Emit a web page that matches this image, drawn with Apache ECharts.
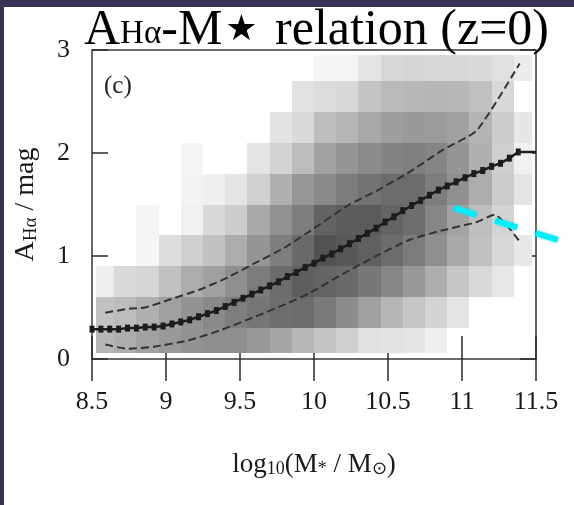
<!DOCTYPE html>
<html>
<head>
<meta charset="utf-8">
<script src="https://cdn.jsdelivr.net/npm/echarts@6/dist/echarts.min.js"></script>
<style>
  html, body { margin: 0; padding: 0; background: #ffffff; }
  #chart { width: 574px; height: 505px; }
</style>
</head>
<body>
<div id="chart"></div>
<script>
// Stellar-mass bin centres, log10(M*/Msun)
const massBins = [8.575, 8.725, 8.875, 9.025, 9.175, 9.325, 9.475, 9.625, 9.775, 9.925,
                  10.075, 10.225, 10.375, 10.525, 10.675, 10.825, 10.975, 11.125, 11.275, 11.425];
// A_Halpha bin centres, mag
const extBins = [0.15, 0.45, 0.75, 1.05, 1.35, 1.65, 1.95, 2.25, 2.55, 2.85];

// Galaxy density per cell (darker = more galaxies), one row per A_Halpha bin, bottom row first
const density = [
  [73, 81, 93, 102, 109, 113, 113, 103, 89, 71, 59, 48, 31, 29, 26, 16, null, null, null, null],
  [61, 67, 79, 95, 108, 118, 129, 137, 145, 147, 133, 115, 95, 73, 57, 43, 27, null, null, null],
  [17, 37, 41, 63, 83, 95, 112, 131, 147, 161, 155, 149, 135, 120, 103, 81, 57, 38, 24, null],
  [null, null, 10, 35, 48, 61, 83, 106, 129, 149, 173, 167, 159, 147, 132, 112, 87, 63, 40, 23],
  [null, null, 10, null, 15, 39, 50, 87, 109, 130, 156, 162, 164, 155, 145, 121, 93, 65, 44, null],
  [null, null, null, null, 12, 16, 27, 47, 79, 105, 117, 131, 140, 147, 147, 130, 111, 83, 51, 27],
  [null, null, null, null, 11, null, null, 27, 45, 67, 93, 106, 116, 124, 128, 122, 106, 79, 48, 15],
  [null, null, null, null, null, null, null, null, 28, 37, 66, 74, 87, 97, 102, 101, 95, 75, 51, 25],
  [null, null, null, null, null, null, null, null, null, 29, 35, 39, 59, 69, 71, 73, 71, 63, 39, null],
  [null, null, null, null, null, null, null, null, null, null, 11, 11, 27, 40, 42, 40, 39, 37, 31, 19]
];

// Running median of A_Halpha
const medianMass = [8.50, 8.56, 8.62, 8.68, 8.74, 8.80, 8.86, 8.92, 8.98, 9.04, 9.10, 9.16, 9.22, 9.28,
  9.34, 9.40, 9.46, 9.52, 9.58, 9.64, 9.70, 9.76, 9.82, 9.88, 9.94, 10.00, 10.06, 10.12, 10.18, 10.24,
  10.30, 10.36, 10.42, 10.48, 10.54, 10.60, 10.66, 10.72, 10.78, 10.84, 10.90, 10.96, 11.02, 11.08,
  11.14, 11.20, 11.26, 11.32, 11.38, 11.50];
const medianExt = [0.29, 0.29, 0.29, 0.29, 0.30, 0.30, 0.31, 0.31, 0.32, 0.34, 0.36, 0.38, 0.41, 0.44,
  0.47, 0.51, 0.55, 0.59, 0.63, 0.67, 0.71, 0.75, 0.80, 0.84, 0.89, 0.93, 0.98, 1.02, 1.07, 1.12,
  1.17, 1.22, 1.27, 1.33, 1.38, 1.44, 1.49, 1.54, 1.59, 1.64, 1.68, 1.72, 1.76, 1.80,
  1.83, 1.87, 1.90, 1.95, 2.01, 2.01];

// 84th percentile
const upperMass = [8.59, 8.76, 8.86, 9.03, 9.22, 9.40, 9.60, 9.80, 9.95, 10.24, 10.42, 10.65, 10.87, 11.10, 11.39];
const upperExt  = [0.45, 0.49, 0.50, 0.58, 0.67, 0.78, 0.93, 1.08, 1.22, 1.50, 1.63, 1.82, 2.03, 2.22, 2.87];

// 16th percentile
const lowerMass = [8.59, 8.74, 8.92, 9.15, 9.37, 9.60, 9.82, 9.97, 10.20, 10.42, 10.65, 10.87, 11.10, 11.22, 11.39];
const lowerExt  = [0.14, 0.10, 0.12, 0.18, 0.28, 0.41, 0.54, 0.64, 0.83, 1.00, 1.16, 1.25, 1.33, 1.40, 1.14];

// Highlighted relation (start and end point)
const guideMass = [10.95, 11.65];
const guideExt  = [1.466, 1.155];

const xTickLabels = ['8.5', '9', '9.5', '10', '10.5', '11', '11.5'];
const yTickLabels = ['0', '1', '2', '3'];

const zip = (xs, ys) => xs.map((x, i) => [x, ys[i]]);

const cells = [];
density.forEach((row, j) => row.forEach((d, i) => {
  if (d !== null) cells.push([massBins[i], extBins[j], d]);
}));
const halfW = (massBins[1] - massBins[0]) / 2;
const halfH = (extBins[1] - extBins[0]) / 2;

const serif = 'Liberation Serif';
const ink = '#2b2b2b';

const chart = echarts.init(document.getElementById('chart'), null, { renderer: 'canvas' });

chart.setOption({
  backgroundColor: '#ffffff',
  animation: false,
  title: {
    text: '{a|A}{b|Hα}{a|-M}{c|★}{a| relation (z=0)}',
    left: 84,
    top: 4,
    padding: 0,
    textStyle: {
      rich: {
        a: { fontFamily: serif, fontSize: 50, fontWeight: 'normal', lineHeight: 52, color: '#000', verticalAlign: 'bottom' },
        b: { fontFamily: serif, fontSize: 33, fontWeight: 'normal', lineHeight: 35, color: '#000', verticalAlign: 'bottom', padding: [0, 0, 5, 0] },
        c: { fontFamily: 'DejaVu Sans', fontSize: 36, fontWeight: 'normal', lineHeight: 36, color: '#000', verticalAlign: 'bottom', padding: [0, 5, 7, 3] }
      }
    }
  },
  graphic: [
    { type: 'rect', left: 0, top: 0, z: 100, shape: { width: 574, height: 7 }, style: { fill: '#393453' } },
    { type: 'rect', left: 0, top: 0, z: 100, shape: { width: 4, height: 505 }, style: { fill: '#393453' } },
    { type: 'text', left: 104, top: 74, z: 50,
      style: { text: '(c)', font: '25px "Liberation Serif"', fill: '#222' } }
  ],
  grid: {
    left: 92, top: 50, width: 444, height: 309,
    show: true, borderColor: '#3a3a3a', borderWidth: 1.5, backgroundColor: '#ffffff'
  },
  visualMap: {
    show: false, type: 'continuous', min: 0, max: 255, dimension: 2, seriesIndex: 0,
    inRange: { color: ['#ffffff', '#000000'] }
  },
  xAxis: [
    {
      type: 'value', position: 'bottom', min: 8.5, max: 11.5, interval: 0.5,
      axisLine: { show: false },
      axisTick: { inside: true, length: 23, lineStyle: { color: ink, width: 1.5 } },
      splitLine: { show: false },
      axisLabel: {
        margin: 30, fontFamily: serif, fontSize: 26, color: '#1a1a1a',
        formatter: (v, i) => xTickLabels[i]
      },
      name: '{a|log}{s|10}{a|(M}{s|*}{a| / M}{s|⊙}{a|)}',
      nameLocation: 'middle', nameGap: 92,
      nameTextStyle: {
        rich: {
          a: { fontFamily: serif, fontSize: 27, lineHeight: 27, color: '#1a1a1a', verticalAlign: 'top', padding: [0, 0, 6, 0] },
          s: { fontFamily: serif, fontSize: 18, lineHeight: 18, color: '#1a1a1a', verticalAlign: 'bottom' }
        }
      }
    },
    {
      type: 'value', position: 'top', min: 8.5, max: 11.5, interval: 0.5,
      axisLine: { show: false },
      axisTick: { inside: true, length: 22, lineStyle: { color: ink, width: 1.5 } },
      splitLine: { show: false },
      axisLabel: { show: false }
    }
  ],
  yAxis: [
    {
      type: 'value', position: 'left', min: 0, max: 3, interval: 1,
      axisLine: { show: false },
      axisTick: { inside: true, length: 16, lineStyle: { color: ink, width: 1.5 } },
      splitLine: { show: false },
      axisLabel: {
        margin: 22, fontFamily: serif, fontSize: 26, color: '#1a1a1a',
        formatter: (v, i) => yTickLabels[i]
      },
      name: '{a|A}{s|Hα}{a| / mag}',
      nameLocation: 'middle', nameRotate: 90, nameGap: 50,
      nameTextStyle: {
        rich: {
          a: { fontFamily: serif, fontSize: 28, lineHeight: 28, color: '#1a1a1a', verticalAlign: 'top', padding: [0, 0, 6, 0] },
          s: { fontFamily: serif, fontSize: 19, lineHeight: 19, color: '#1a1a1a', verticalAlign: 'bottom' }
        }
      }
    },
    {
      type: 'value', position: 'right', min: 0, max: 3, interval: 1,
      axisLine: { show: false },
      axisTick: { inside: true, length: 16, lineStyle: { color: ink, width: 1.5 } },
      splitLine: { show: false },
      axisLabel: { show: false }
    }
  ],
  series: [
    {
      name: 'density',
      type: 'custom',
      data: cells,
      encode: { x: 0, y: 1 },
      z: 1,
      renderItem: (params, api) => {
        const xc = api.value(0), yc = api.value(1);
        const p0 = api.coord([xc - halfW, yc + halfH]);
        const p1 = api.coord([xc + halfW, yc - halfH]);
        const x0 = Math.round(p0[0]), y0 = Math.round(p0[1]);
        const x1 = Math.round(p1[0]), y1 = Math.round(p1[1]);
        const cs = params.coordSys;
        const shape = echarts.graphic.clipRectByRect(
          { x: x0, y: y0, width: x1 - x0, height: y1 - y0 },
          { x: cs.x + 4, y: cs.y + 5, width: cs.width - 8, height: cs.height - 11 }
        );
        if (!shape) return null;
        return { type: 'rect', shape: shape, style: { fill: api.visual('color') } };
      }
    },
    {
      name: 'p84', type: 'line', data: zip(upperMass, upperExt), symbol: 'none', smooth: 0.2, z: 3,
      lineStyle: { color: '#333', width: 2, type: [8, 4] }
    },
    {
      name: 'p16', type: 'line', data: zip(lowerMass, lowerExt), symbol: 'none', smooth: 0.2, z: 3,
      lineStyle: { color: '#333', width: 2, type: [8, 4] }
    },
    {
      name: 'median', type: 'line', z: 4,
      data: zip(medianMass, medianExt).map((p, i, arr) =>
        i === arr.length - 1 ? { value: p, symbol: 'none' } : p),
      symbol: 'rect', symbolSize: [5, 7],
      itemStyle: { color: '#1c1c1c' },
      lineStyle: { color: '#1c1c1c', width: 2.5 }
    },
    {
      // highlighted relation, allowed to run past the frame
      name: 'guide', type: 'custom', z: 6,
      data: [[guideMass[0], guideExt[0], guideMass[1], guideExt[1]]],
      encode: { x: [0, 2], y: [1, 3] },
      renderItem: (params, api) => {
        const a = api.coord([api.value(0), api.value(1)]);
        const b = api.coord([api.value(2), api.value(3)]);
        return {
          type: 'line',
          shape: { x1: a[0], y1: a[1], x2: b[0], y2: b[1] },
          style: {
            stroke: '#00eefc', lineWidth: 6, lineDash: [23, 19.5],
            shadowBlur: 3, shadowColor: 'rgba(0,220,240,0.6)'
          }
        };
      }
    }
  ]
});
</script>
</body>
</html>
